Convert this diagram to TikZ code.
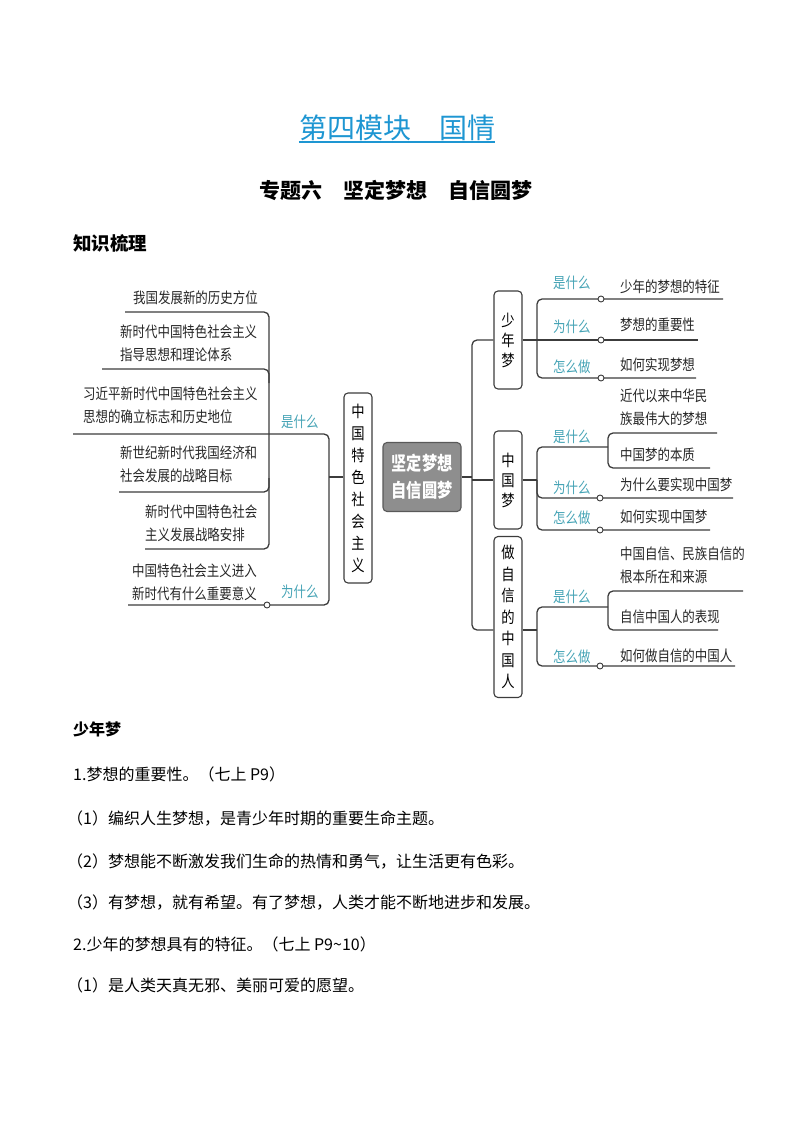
\documentclass[tikz,border=0pt]{standalone}
\usepackage{fontspec}
\setmainfont{Noto Sans CJK SC}
\newfontfamily\cjk{Noto Sans CJK SC}
\newfontfamily\mapfont[FakeStretch=0.83]{Noto Sans CJK SC}
\newfontfamily\hubfont[FakeStretch=0.8]{Noto Sans CJK SC}
\usetikzlibrary{calc}
\definecolor{inkgray}{HTML}{3C3C3C}
\definecolor{tagteal}{HTML}{45A3B5}
\definecolor{titleblue}{HTML}{1E96D2}
\definecolor{hubgray}{HTML}{8E8E8E}

\begin{document}
\begin{tikzpicture}[
  x=1pt,y=-1pt,
  vbox/.style={draw=inkgray,fill=white,rounded corners=4pt,line width=1.1pt,minimum width=28pt,inner sep=0pt,align=center,font=\mapfont\fontsize{16}{#1}\selectfont},
  vbox/.default=21,
  hub/.style={draw=inkgray!85,fill=hubgray,rounded corners=4pt,line width=1.1pt,minimum width=78pt,minimum height=69pt,inner sep=0pt,align=center,text=white,font=\hubfont\bfseries\fontsize{19}{27}\selectfont},
  leaf/.style={anchor=west,inner sep=0pt,align=left,text=black!85,font=\mapfont\fontsize{15}{23}\selectfont},
  tag/.style={anchor=west,inner sep=0pt,text=tagteal,font=\mapfont\fontsize{15}{18}\selectfont},
  link/.style={draw=inkgray,line width=1.3pt,rounded corners=5pt},
  knot/.style={circle,draw=inkgray,fill=white,line width=0.9pt,inner sep=0pt,minimum size=6pt},
  body/.style={anchor=west,inner sep=0pt,font=\cjk\fontsize{16}{20}\selectfont},
  head/.style={anchor=west,inner sep=0pt,font=\cjk\bfseries\fontsize{16}{20}\selectfont}
]
\useasboundingbox (0,0) rectangle (794,1123);

% headings
\node[font=\cjk\fontsize{28}{32}\selectfont,text=titleblue,inner sep=0pt] (title) at (397,128) {第四模块　国情};
\coordinate (ul) at (0,142);
\draw[titleblue,line width=2pt] (title.west |- ul) -- (title.east |- ul);
\node[font=\cjk\bfseries\fontsize{21}{24}\selectfont,inner sep=0pt] (sub) at (396,190) {专题六　坚定梦想　自信圆梦};
\node[head,font=\cjk\bfseries\fontsize{18.5}{22}\selectfont] (zhishi) at (73,243) {知识梳理};

% central boxes
\node[hub] (hub) at (422,477) {坚定梦想\\自信圆梦};
\node[vbox=22,minimum height=190pt] (tese) at (358,488) {中\\国\\特\\色\\社\\会\\主\\义};
\node[vbox=20,minimum height=98pt] (shao) at (508,340) {少\\年\\梦};
\node[vbox=20,minimum height=98pt] (zhong) at (508,480) {中\\国\\梦};
\node[vbox=21.5,minimum height=161pt] (zixin) at (508,617) {做\\自\\信\\的\\中\\国\\人};

% left branch
\coordinate (lj) at (329,477);
\coordinate (lt) at (329,434);
\coordinate (lb) at (329,605);
\coordinate (lw1) at (73,434);
\coordinate (lw2) at (128,605);
\coordinate (vx) at (269,400);
\coordinate (a1) at (125,312);
\coordinate (a2) at (102,369);
\coordinate (a4) at (119,492);
\coordinate (a5) at (145,549);
\draw[link] (tese.west |- hub) -- (lj);
\draw[link] (lw1) -- (lt) -- (lb) -- (lw2);
\draw[link] (a1) -- (a1 -| vx) -- (a5 -| vx) -- (a5);
\draw[link] (a2) -- (a2 -| vx) -- ++(0,14);
\draw[link] (a4) -- (a4 -| vx) -- ++(0,-14);
\node[knot] (d0) at (267,605) {};
\node[tag] (lwhat) at (281,422) {是什么};
\node[tag] (lwhy) at (281,592) {为什么};
\node[leaf] (l1) at (133,298) {我国发展新的历史方位};
\node[leaf] (l2) at (120,343.5) {新时代中国特色社会主义\\指导思想和理论体系};
\node[leaf] (l3) at (83,405) {习近平新时代中国特色社会主义\\思想的确立标志和历史地位};
\node[leaf] (l4) at (120,464) {新世纪新时代我国经济和\\社会发展的战略目标};
\node[leaf] (l5) at (145,523.5) {新时代中国特色社会\\主义发展战略安排};
\node[leaf] (l6) at (132,582.5) {中国特色社会主义进入\\新时代有什么重要意义};

% right branch
\coordinate (rx) at (472,480);
\coordinate (zy) at (0,630);
\draw[link] (shao.west) -- (shao.west -| rx) -- (rx |- zy) -- (zixin.west |- zy);
\draw[link] (hub.east) -- (hub.east -| rx);
\draw[link] (rx) -- (zhong.west);

% shao nian meng
\coordinate (sx) at (537,340);
\coordinate (sa) at (723,299);
\coordinate (sb) at (698,340);
\coordinate (sc) at (696,378);
\draw[link] (sa) -- (sa -| sx) -- (sc -| sx) -- (sc);
\draw[link] (shao.east) -- (sb);
\node[knot] (d1) at (601,299) {};
\node[knot] (d2) at (601,340) {};
\node[knot] (d3) at (601,378) {};
\node[tag] (swhat) at (553,283) {是什么};
\node[tag] (swhy) at (553,327) {为什么};
\node[tag] (show) at (553,367) {怎么做};
\node[leaf] (s1) at (620,287) {少年的梦想的特征};
\node[leaf] (s2) at (620,325) {梦想的重要性};
\node[leaf] (s3) at (620,365) {如何实现梦想};

% zhong guo meng
\coordinate (qx) at (608,447);
\coordinate (zq) at (608,447);
\coordinate (zw) at (733,498);
\coordinate (zd) at (710,530);
\coordinate (z1) at (717,433);
\coordinate (z2) at (710,468);
\draw[link] (zhong.east) -- (zhong.east -| sx);
\draw[link] (zq) -- (zq -| sx) -- (zd -| sx) -- (zd);
\draw[link] (zhong.east -| sx) -- (zw -| sx) -- (zw);
\draw[link] (z1) -- (z1 -| qx) -- (z2 -| qx) -- (z2);
\node[knot] (d4) at (600,498) {};
\node[knot] (d5) at (600,530) {};
\node[tag] (zwhat) at (553,437) {是什么};
\node[tag] (zwhy) at (553,488) {为什么};
\node[tag] (zhow) at (553,518) {怎么做};
\node[leaf] (m1) at (620,407.5) {近代以来中华民\\族最伟大的梦想};
\node[leaf] (m2) at (620,455) {中国梦的本质};
\node[leaf] (m3) at (620,485) {为什么要实现中国梦};
\node[leaf] (m4) at (620,517) {如何实现中国梦};

% zi xin de zhong guo ren
\coordinate (xq) at (608,607);
\coordinate (xd) at (735,666);
\coordinate (x1) at (743,591);
\coordinate (x2) at (718,630);
\draw[link] (zixin.east |- zy) -- (sx |- zy);
\draw[link] (xq) -- (xq -| sx) -- (xd -| sx) -- (xd);
\draw[link] (x1) -- (x1 -| qx) -- (x2 -| qx) -- (x2);
\node[knot] (d6) at (600,666) {};
\node[tag] (xwhat) at (553,597) {是什么};
\node[tag] (xhow) at (553,657) {怎么做};
\node[leaf] (n1) at (620,565) {中国自信、民族自信的\\根本所在和来源};
\node[leaf] (n2) at (620,617) {自信中国人的表现};
\node[leaf] (n3) at (620,656) {如何做自信的中国人};

% text below
\node[head] (h1) at (73,729) {少年梦};
\node[body] (p1) at (73,774) {1.梦想的重要性。（七上 P9）};
\node[body] (p2) at (67,818) {（1）编织人生梦想，是青少年时期的重要生命主题。};
\node[body] (p3) at (67,861) {（2）梦想能不断激发我们生命的热情和勇气，让生活更有色彩。};
\node[body] (p4) at (67,902) {（3）有梦想，就有希望。有了梦想，人类才能不断地进步和发展。};
\node[body] (p5) at (73,944) {2.少年的梦想具有的特征。（七上 P9\textasciitilde 10）};
\node[body] (p6) at (67,985) {（1）是人类天真无邪、美丽可爱的愿望。};
\end{tikzpicture}
\end{document}
